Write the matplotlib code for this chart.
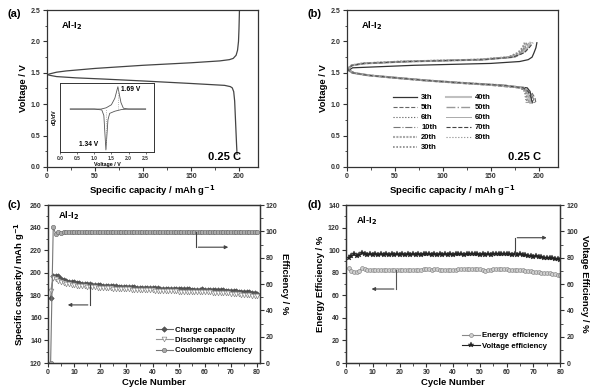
import matplotlib
matplotlib.use("Agg")
import matplotlib.pyplot as plt
from matplotlib.ticker import MultipleLocator

plt.rcParams['font.family'] = ['Liberation Sans', 'DejaVu Sans']
plt.rcParams['font.weight'] = 'bold'
plt.rcParams['axes.labelweight'] = 'bold'
plt.rcParams['mathtext.default'] = 'bf'

# ---- (a) charge / discharge profile ----
a_charge_cap = [0, 2, 10, 20, 50, 100, 150, 180, 190, 194, 197, 198.5, 199.5, 200, 200.5]
a_charge_v = [1.45, 1.48, 1.51, 1.53, 1.57, 1.62, 1.66, 1.69, 1.71, 1.73, 1.78, 1.86, 2.0, 2.2, 2.5]
a_dis_cap = [0, 3, 10, 30, 60, 100, 150, 185, 191, 193, 194.5, 195.5, 196.5, 197.5, 198]
a_dis_v = [1.48, 1.46, 1.44, 1.42, 1.40, 1.37, 1.33, 1.30, 1.28, 1.26, 1.20, 1.05, 0.70, 0.35, 0.20]

# inset dQ/dV
in_ch_v = [0.3, 1.0, 1.2, 1.35, 1.5, 1.6, 1.65, 1.69, 1.73, 1.78, 1.85, 2.0, 2.5]
in_ch_y = [0, 0, 0.0, 0.03, 0.10, 0.25, 0.40, 0.52, 0.35, 0.15, 0.02, 0, 0]
in_dis_v = [2.5, 2.0, 1.8, 1.6, 1.45, 1.40, 1.37, 1.34, 1.31, 1.28, 1.22, 1.0, 0.3]
in_dis_y = [0, 0, -0.01, -0.05, -0.10, -0.25, -0.60, -0.95, -0.55, -0.15, -0.02, 0, 0]

# ---- (b) cycles ----
cycles = ['3th', '5th', '6th', '10th', '20th', '30th', '40th', '50th', '60th', '70th', '80th']
b_charge_v = [1.52, 1.58, 1.62, 1.65, 1.68, 1.71, 1.75, 1.82, 1.90, 1.98]
b_charge_cap = [
    [0, 6, 70, 150, 180, 189, 193, 195, 197, 198],
    [0, 2, 6, 20, 70, 145, 175, 184, 188, 190],
    [0, 2, 5, 18, 60, 140, 172, 182, 186, 189],
    [0, 2, 6, 19, 65, 142, 173, 181, 185, 187],
    [0, 2, 5, 17, 58, 138, 170, 180, 184, 186],
    [0, 2, 5, 16, 55, 135, 168, 178, 183, 185],
    [0, 2, 6, 18, 62, 140, 172, 183, 188, 191],
    [0, 2, 5, 17, 60, 138, 170, 181, 186, 189],
    [0, 2, 6, 19, 66, 144, 174, 184, 189, 192],
    [0, 2, 6, 18, 63, 141, 173, 185, 190, 194],
    [0, 2, 5, 17, 58, 137, 169, 180, 185, 188],
]
b_dis_v = [1.56, 1.50, 1.46, 1.42, 1.38, 1.34, 1.30, 1.26, 1.20, 1.10, 1.02]
b_dis_cap = [
    [0, 8, 25, 55, 85, 120, 165, 188, 191, 192, 193],
    [0, 5, 20, 45, 75, 110, 150, 178, 192, 196, 197],
    [0, 6, 22, 50, 80, 118, 160, 183, 190, 193, 195],
    [0, 6, 22, 50, 80, 117, 160, 184, 191, 194, 196],
    [0, 6, 23, 52, 82, 120, 163, 184, 187, 188, 189],
    [0, 6, 23, 52, 82, 120, 162, 183, 186, 187, 188],
    [0, 6, 22, 51, 81, 119, 161, 184, 188, 190, 191],
    [0, 6, 22, 50, 80, 118, 160, 183, 187, 189, 190],
    [0, 6, 23, 52, 83, 121, 164, 185, 189, 191, 192],
    [0, 6, 22, 51, 81, 119, 162, 184, 189, 192, 194],
    [0, 6, 22, 50, 80, 117, 158, 181, 185, 186, 187],
]
b_styles = ['-', '--', ':', '-.', (0, (1, 0.6)), (0, (1, 1)), '-', '-.', '-', '--', ':']
b_colors = ['#333333', '#666666', '#555555', '#777777', '#aaaaaa', '#888888',
            '#c0c0c0', '#999999', '#aaaaaa', '#444444', '#888888']
b_widths = [0.9, 0.8, 0.8, 0.8, 1.5, 1.2, 1.5, 1.0, 0.7, 0.8, 0.8]

# ---- (c) cycling capacity ----
c_cycle = list(range(1, 81))
c_charge = [178.0, 197.0, 197.5, 197.0, 194.5, 193.5, 192.8, 192.2, 191.8, 191.4,
            191.0, 190.7, 190.4, 190.2, 190.0, 189.7, 189.5, 189.3, 189.1, 188.9,
            188.7, 188.6, 188.4, 188.2, 188.1, 187.9, 187.8, 187.7, 187.5, 187.4,
            187.3, 187.1, 187.0, 186.9, 186.8, 186.7, 186.6, 186.5, 186.4, 186.3,
            186.2, 186.1, 186.0, 186.0, 185.9, 185.8, 185.7, 185.6, 185.5, 185.5,
            185.4, 185.3, 185.2, 185.2, 185.1, 185.0, 185.0, 185.1, 185.2, 185.1,
            185.0, 184.9, 184.8, 184.7, 184.6, 184.5, 184.3, 184.2, 184.0, 183.8,
            183.7, 183.5, 183.3, 183.2, 183.0, 182.8, 182.6, 182.4, 182.0, 181.5]
c_discharge = [184.0, 195.0, 194.5, 193.0, 192.0, 191.0, 190.3, 189.8, 189.4, 189.0,
               188.7, 188.4, 188.1, 187.9, 187.7, 187.5, 187.3, 187.1, 186.9, 186.7,
               186.5, 186.4, 186.2, 186.1, 185.9, 185.8, 185.7, 185.6, 185.5, 185.4,
               185.2, 185.1, 185.0, 184.9, 184.8, 184.7, 184.6, 184.5, 184.4, 184.3,
               184.2, 184.1, 184.0, 183.9, 183.8, 183.7, 183.6, 183.5, 183.4, 183.3,
               183.2, 183.1, 183.0, 183.0, 182.9, 182.8, 182.8, 182.9, 183.0, 182.9,
               182.8, 182.6, 182.5, 182.4, 182.3, 182.2, 182.0, 181.9, 181.7, 181.5,
               181.3, 181.1, 180.9, 180.7, 180.5, 180.3, 180.1, 179.8, 179.5, 179.0]
c_ce = [0.0, 103.0, 98.0, 99.5, 98.8, 99.2, 99.4, 99.5, 99.6, 99.5,
        99.5, 99.6, 99.5, 99.4, 99.5, 99.6, 99.5, 99.5, 99.6, 99.5,
        99.4, 99.5, 99.6, 99.5, 99.5, 99.6, 99.5, 99.4, 99.5, 99.6,
        99.5, 99.5, 99.6, 99.5, 99.4, 99.5, 99.6, 99.5, 99.5, 99.6,
        99.5, 99.4, 99.5, 99.6, 99.5, 99.5, 99.6, 99.5, 99.4, 99.5,
        99.6, 99.5, 99.5, 99.6, 99.5, 99.4, 99.5, 99.6, 99.5, 99.5,
        99.6, 99.5, 99.4, 99.5, 99.6, 99.5, 99.5, 99.6, 99.5, 99.4,
        99.5, 99.6, 99.5, 99.5, 99.6, 99.5, 99.4, 99.5, 99.6, 99.5]

# ---- (d) energy / voltage efficiency ----
d_cycle = list(range(1, 81))
d_energy = [84.0, 82.0, 81.0, 80.5, 81.5, 84.0, 83.0, 82.5, 82.3, 82.4,
            82.3, 82.2, 82.3, 82.4, 82.2, 82.3, 82.1, 82.3, 82.2, 82.4,
            82.3, 82.2, 82.5, 82.6, 82.7, 82.8, 82.7, 82.8, 83.0, 83.1,
            82.9, 82.8, 82.9, 83.0, 82.8, 82.7, 82.6, 82.5, 82.6, 82.7,
            82.8, 82.9, 83.0, 83.1, 83.0, 82.9, 83.0, 83.1, 83.2, 83.3,
            82.5, 81.8, 82.2, 82.8, 83.2, 83.3, 83.2, 83.1, 83.0, 82.9,
            82.8, 82.7, 82.6, 82.5, 82.4, 82.3, 82.0, 81.6, 81.2, 80.8,
            80.5, 80.3, 80.2, 80.0, 79.8, 79.5, 79.2, 78.8, 78.3, 77.8]
d_voltage = [79.5, 81.0, 82.5, 81.0, 81.8, 83.8, 82.6, 82.0, 82.8, 82.1,
             82.7, 82.0, 82.6, 81.9, 82.7, 82.0, 82.5, 81.9, 82.6, 82.0,
             82.7, 82.1, 82.8, 82.2, 82.9, 82.3, 82.9, 82.4, 83.0, 82.5,
             83.0, 82.4, 82.9, 82.3, 82.8, 82.2, 82.8, 82.3, 82.9, 82.4,
             83.0, 82.5, 83.0, 82.4, 83.1, 82.6, 83.2, 82.5, 83.1, 82.4,
             83.0, 82.2, 82.6, 82.3, 83.0, 82.7, 83.2, 82.6, 83.1, 82.5,
             83.0, 82.4, 82.8, 82.1, 82.5, 81.8, 82.0, 81.4, 81.5, 80.9,
             81.0, 80.4, 80.5, 79.9, 80.0, 79.5, 79.6, 79.0, 78.8, 78.0]

TICK = 5
LABEL = 6.8
SPINE = '#333333'
AL = r'Al-I$_\mathbf{2}$'


def style(ax, right=False):
    for s in ax.spines.values():
        s.set_color(SPINE)
        s.set_linewidth(0.9)
    ax.tick_params(which='both', direction='out', labelsize=TICK, colors=SPINE,
                   top=False, right=right, left=not right, pad=1.5)
    ax.tick_params(which='major', length=3, width=0.8)
    ax.tick_params(which='minor', length=1.8, width=0.6)


fig = plt.figure(figsize=(6.0, 3.89), dpi=100)

# (a)
ax = fig.add_axes([0.0783, 0.571, 0.352, 0.403])
ax.plot(a_charge_cap, a_charge_v, color='#444444', lw=0.9)
ax.plot(a_dis_cap, a_dis_v, color='#444444', lw=0.9)
ax.set_xlim(0, 220)
ax.set_ylim(0, 2.5)
ax.xaxis.set_major_locator(MultipleLocator(50))
ax.xaxis.set_minor_locator(MultipleLocator(25))
ax.yaxis.set_major_locator(MultipleLocator(0.5))
ax.yaxis.set_minor_locator(MultipleLocator(0.25))
ax.yaxis.set_major_formatter('{x:.1f}')
style(ax)
ax.set_xlabel('Specific capacity / mAh g$^{-1}$', fontsize=LABEL, labelpad=2)
ax.set_ylabel('Voltage / V', fontsize=LABEL, labelpad=2)
ax.text(0.065, 0.9, AL, transform=ax.transAxes, fontsize=6.8, va='center')
ax.text(0.92, 0.03, '0.25 C', transform=ax.transAxes, fontsize=8, ha='right', va='bottom')

ins = fig.add_axes([0.1, 0.609, 0.157, 0.177])
ins.plot(in_ch_v, in_ch_y, color='#555555', lw=0.6)
ins.plot(in_dis_v, in_dis_y, color='#555555', lw=0.6)
ins.axvline(1.34, ymin=0.06, ymax=0.62, color='#999999', lw=0.6, ls=':')
ins.axvline(1.69, ymin=0.62, ymax=0.95, color='#999999', lw=0.6, ls=':')
ins.set_xlim(0, 2.75)
ins.set_ylim(-1.0, 0.6)
ins.set_yticks([])
ins.xaxis.set_major_locator(MultipleLocator(0.5))
ins.xaxis.set_major_formatter('{x:.1f}')
for s in ins.spines.values():
    s.set_color(SPINE)
    s.set_linewidth(0.7)
ins.tick_params(direction='out', labelsize=3.5, length=1.5, width=0.5, pad=1, colors=SPINE)
ins.set_xlabel('Voltage / V', fontsize=3.8, labelpad=1)
ins.set_ylabel('dQ/dV', fontsize=3.8, labelpad=2)
ins.text(1.78, 0.42, '1.69 V', fontsize=4.8)
ins.text(0.55, -0.85, '1.34 V', fontsize=4.8)

# (b)
ax = fig.add_axes([0.578, 0.571, 0.352, 0.403])
for i, name in enumerate(cycles):
    ax.plot(b_charge_cap[i], b_charge_v, ls=b_styles[i], color=b_colors[i], lw=b_widths[i], label=name)
    ax.plot(b_dis_cap[i], b_dis_v, ls=b_styles[i], color=b_colors[i], lw=b_widths[i])
ax.set_xlim(0, 220)
ax.set_ylim(0, 2.5)
ax.xaxis.set_major_locator(MultipleLocator(50))
ax.xaxis.set_minor_locator(MultipleLocator(25))
ax.yaxis.set_major_locator(MultipleLocator(0.5))
ax.yaxis.set_minor_locator(MultipleLocator(0.25))
ax.yaxis.set_major_formatter('{x:.1f}')
style(ax)
ax.set_xlabel('Specific capacity / mAh g$^{-1}$', fontsize=LABEL, labelpad=2)
ax.set_ylabel('Voltage / V', fontsize=LABEL, labelpad=2)
ax.text(0.065, 0.9, AL, transform=ax.transAxes, fontsize=6.8, va='center')
ax.text(0.92, 0.03, '0.25 C', transform=ax.transAxes, fontsize=8, ha='right', va='bottom')
ax.legend(loc='upper left', bbox_to_anchor=(0.2, 0.49), ncol=2, frameon=False,
          fontsize=5.5, handlelength=3.2, labelspacing=0.35, columnspacing=1.2,
          handletextpad=0.5, borderpad=0)

# (c)
ax = fig.add_axes([0.08, 0.0668, 0.353, 0.406])
ax2 = ax.twinx()
l1, = ax.plot(c_cycle, c_charge, color='#666666', lw=0.8, marker='D', ms=2.8,
              mfc='#555555', mec='#444444', mew=0.4, label='Charge capacity')
l2, = ax.plot(c_cycle, c_discharge, color='#999999', lw=0.8, marker='v', ms=3.4,
              mfc='white', mec='#888888', mew=0.5, label='Discharge capacity')
l3, = ax2.plot(c_cycle, c_ce, color='#777777', lw=0.8, marker='o', ms=3.2,
               mfc='#aaaaaa', mec='#666666', mew=0.4, label='Coulombic efficiency')
ax.set_xlim(0, 81)
ax.set_ylim(120, 260)
ax2.set_ylim(0, 120)
ax.xaxis.set_major_locator(MultipleLocator(10))
ax.xaxis.set_minor_locator(MultipleLocator(5))
ax.yaxis.set_major_locator(MultipleLocator(20))
ax.yaxis.set_minor_locator(MultipleLocator(10))
ax2.yaxis.set_major_locator(MultipleLocator(20))
ax2.yaxis.set_minor_locator(MultipleLocator(10))
style(ax)
style(ax2, right=True)
ax.set_xlabel('Cycle Number', fontsize=LABEL, labelpad=1)
ax.set_ylabel('Specific capacity/ mAh g$^{-1}$', fontsize=LABEL, labelpad=2)
ax2.set_ylabel('Efficiency / %', fontsize=LABEL, rotation=270, labelpad=8)
ax.text(0.045, 0.93, AL, transform=ax.transAxes, fontsize=6.8, va='center')
ax.plot([16, 16], [189, 171.5], color='#444444', lw=0.8)
ax.annotate('', xy=(6.5, 171.5), xytext=(16.3, 171.5),
            arrowprops=dict(arrowstyle='-|>', color='#444444', lw=0.8, mutation_scale=5))
ax2.plot([56.7, 56.7], [99.5, 88], color='#444444', lw=0.8)
ax2.annotate('', xy=(70, 88), xytext=(56.4, 88),
             arrowprops=dict(arrowstyle='-|>', color='#444444', lw=0.8, mutation_scale=5))
ax2.legend([l1, l2, l3], [l1.get_label(), l2.get_label(), l3.get_label()],
           loc='lower right', bbox_to_anchor=(0.985, 0.03), frameon=False, fontsize=5.6,
           handlelength=2.2, labelspacing=0.35, handletextpad=0.3, borderpad=0)

# (d)
ax = fig.add_axes([0.5767, 0.0668, 0.357, 0.406])
ax2 = ax.twinx()
m1, = ax.plot(d_cycle, d_energy, color='#888888', lw=0.8, marker='o', ms=2.8,
              mfc='#d0d0d0', mec='#777777', mew=0.4, label='Energy  efficiency')
m2, = ax2.plot(d_cycle, d_voltage, color='#222222', lw=0.8, marker='*', ms=4.0,
               mfc='#222222', mec='#222222', mew=0.3, label='Voltage efficiency')
ax.set_xlim(0, 80)
ax.set_ylim(0, 140)
ax2.set_ylim(0, 120)
ax.xaxis.set_major_locator(MultipleLocator(10))
ax.xaxis.set_minor_locator(MultipleLocator(5))
ax.yaxis.set_major_locator(MultipleLocator(20))
ax.yaxis.set_minor_locator(MultipleLocator(10))
ax2.yaxis.set_major_locator(MultipleLocator(20))
ax2.yaxis.set_minor_locator(MultipleLocator(10))
style(ax)
style(ax2, right=True)
ax.set_xlabel('Cycle Number', fontsize=LABEL, labelpad=1)
ax.set_ylabel('Energy Efficiency / %', fontsize=LABEL, labelpad=2)
ax2.set_ylabel('Voltage Efficiency / %', fontsize=LABEL, rotation=270, labelpad=8)
ax.text(0.045, 0.9, AL, transform=ax.transAxes, fontsize=6.8, va='center')
ax.plot([18.6, 18.6], [82.5, 65.6], color='#555555', lw=0.8)
ax.annotate('', xy=(8.5, 65.6), xytext=(18.9, 65.6),
            arrowprops=dict(arrowstyle='-|>', color='#444444', lw=0.8, mutation_scale=5))
ax2.plot([63.2, 63.2], [83, 95.2], color='#444444', lw=0.8)
ax2.annotate('', xy=(76, 95.2), xytext=(62.9, 95.2),
             arrowprops=dict(arrowstyle='-|>', color='#444444', lw=0.8, mutation_scale=5))
ax2.legend([m1, m2], [m1.get_label(), m2.get_label()],
           loc='lower right', bbox_to_anchor=(0.96, 0.06), frameon=False, fontsize=5.6,
           handlelength=2.2, labelspacing=0.35, handletextpad=0.3, borderpad=0)

fig.text(0.012, 0.963, '(a)', fontsize=8, va='center')
fig.text(0.512, 0.963, '(b)', fontsize=8, va='center')
fig.text(0.012, 0.473, '(c)', fontsize=8, va='center')
fig.text(0.512, 0.473, '(d)', fontsize=8, va='center')

fig.savefig('out.png', dpi=100)
